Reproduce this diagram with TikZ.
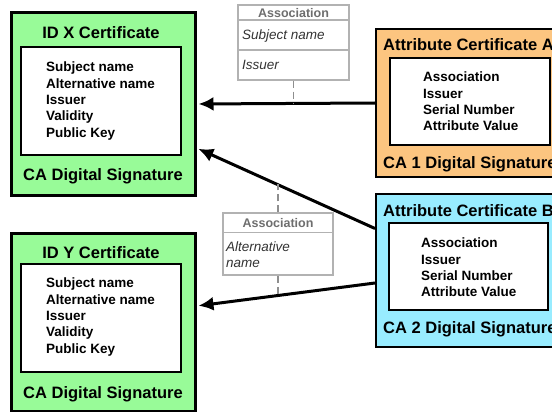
\documentclass[tikz,border=0pt]{standalone}
\usepackage{fontspec}
\setmainfont{Liberation Sans}
\usetikzlibrary{arrows.meta,calc}

\definecolor{idgreen}{RGB}{152,251,152}
\definecolor{attrorange}{RGB}{252,197,128}
\definecolor{attrcyan}{RGB}{152,236,255}
\definecolor{assocgray}{RGB}{178,178,178}
\definecolor{assoctext}{RGB}{110,110,110}

\begin{document}
\begin{tikzpicture}[x=1pt, y=-1pt,
  idcert/.style={draw, line width=3pt, fill=idgreen, minimum width=184pt},
  attrcert/.style={draw, line width=2pt, minimum width=190pt},
  fieldbox/.style={draw, line width=1.5pt, fill=white},
  fields/.style={anchor=west, align=left, inner sep=0pt, font=\bfseries\fontsize{13.5}{16.3}\selectfont},
  heading/.style={anchor=base, inner sep=0pt, font=\bfseries\fontsize{16.5}{19}\selectfont},
  assocbox/.style={draw=assocgray, line width=1.5pt, fill=white},
  assochead/.style={inner sep=0pt, text=assoctext, font=\bfseries\fontsize{12.5}{14}\selectfont},
  associtem/.style={anchor=west, align=left, inner sep=0pt, text=black!80, font=\itshape\fontsize{13.5}{16.3}\selectfont},
  link/.style={line width=3pt, -{Latex[length=15pt,width=14pt]}, shorten >=2pt},
  tie/.style={assocgray!80!black, line width=1.5pt, dash pattern=on 7pt off 4pt}
]
\path[use as bounding box, clip] (0,0) rectangle (552,412);

% identity certificates
\node[idcert, minimum height=182pt] (idx) at (103,104) {};
\node[fieldbox, minimum width=160pt, minimum height=108pt] (idxbox) at (101,101) {};
\node[heading] (idxtitle) at (101,39) {ID X Certificate};
\node[fields] (idxfields) at (46,101) {Subject name\\Alternative name\\Issuer\\Validity\\Public Key};
\node[heading] (idxsig) at (103,180) {CA Digital Signature};

\node[idcert, minimum height=178pt] (idy) at (103,322) {};
\node[fieldbox, minimum width=160pt, minimum height=108pt] (idybox) at (101,318) {};
\node[heading] (idytitle) at (101,258) {ID Y Certificate};
\node[fields] (idyfields) at (46,317) {Subject name\\Alternative name\\Issuer\\Validity\\Public Key};
\node[heading] (idysig) at (103,398) {CA Digital Signature};

% attribute certificates
\node[attrcert, fill=attrorange, minimum height=148pt] (attra) at (471,103) {};
\node[fieldbox, minimum width=160pt, minimum height=87pt] (attrabox) at (470,101.5) {};
\node[heading, anchor=base west] (attratitle) at (383,51) {Attribute Certificate A};
\node[fields] (attrafields) at (423,101.5) {Association\\Issuer\\Serial Number\\Attribute Value};
\node[heading, anchor=base west] (attrasig) at (383,168) {CA 1 Digital Signature};

\node[attrcert, fill=attrcyan, minimum height=153pt] (attrb) at (471,270.5) {};
\node[fieldbox, minimum width=159pt, minimum height=87pt] (attrbbox) at (468.5,266.5) {};
\node[heading, anchor=base west] (attrbtitle) at (383,216) {Attribute Certificate B};
\node[fields] (attrbfields) at (421,267.5) {Association\\Issuer\\Serial Number\\Attribute Value};
\node[heading, anchor=base west] (attrbsig) at (383,333) {CA 2 Digital Signature};

% association notes
\node[assocbox, minimum width=111pt, minimum height=75pt] (assoc1) at (293.5,42.5) {};
\draw[assocgray, line width=1.5pt] ([yshift=-16pt]assoc1.north west) -- ([yshift=-16pt]assoc1.north east);
\draw[assocgray, line width=1.5pt] ([yshift=-46pt]assoc1.north west) -- ([yshift=-46pt]assoc1.north east);
\node[assochead] (assoc1head) at (293.5,13.5) {Association};
\node[associtem] (assoc1subj) at (242,36) {Subject name};
\node[associtem] (assoc1iss) at (242,65) {Issuer};

\node[assocbox, minimum width=110pt, minimum height=62pt] (assoc2) at (278,244) {};
\draw[assocgray, line width=1.5pt] ([yshift=-20pt]assoc2.north west) -- ([yshift=-20pt]assoc2.north east);
\node[assochead] (assoc2head) at (278,223) {Association};
\node[associtem] (assoc2alt) at (226,255) {Alternative\\name};

% links between certificates
\draw[link] (attra.west) -- (idx.east);
\draw[link] ($(attrb.west)+(0,-42)$) -- coordinate[pos=0.55] (idxlink) ($(idx.east)+(0,44)$);
\draw[link] ($(attrb.west)+(0,12.5)$) -- coordinate[pos=0.55] (idylink) ($(idy.east)+(0,-16)$);

\draw[tie] (assoc1.south) -- (assoc1.south |- idx.east);
\draw[tie] (assoc2.north) -- (assoc2.north |- idxlink);
\draw[tie] (assoc2.south) -- (assoc2.south |- idylink);
\end{tikzpicture}
\end{document}
